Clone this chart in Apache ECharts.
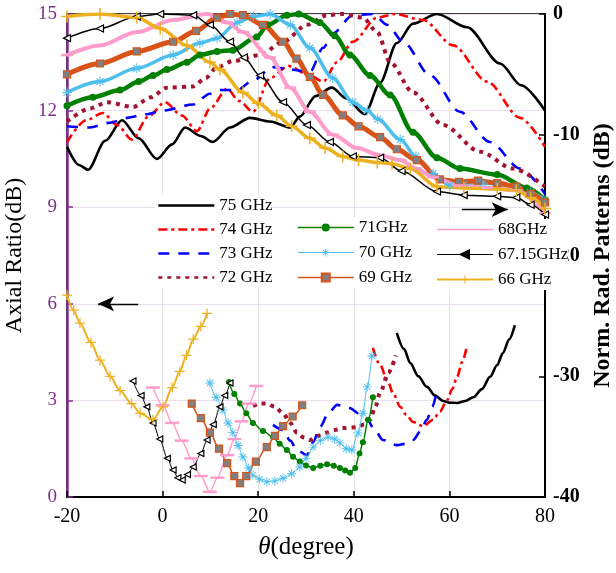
<!DOCTYPE html>
<html>
<head>
<meta charset="utf-8">
<title>Axial ratio and radiation patterns</title>
<style>
  html, body { margin: 0; padding: 0; background: #fff; }
  #chart { width: 616px; height: 573px; }
</style>
</head>
<body>
<div id="chart"></div>
<script src="https://cdn.jsdelivr.net/npm/echarts@6.0.0/dist/echarts.min.js"></script>
<script>
// legend names, in plotting order
const freqNames = ['75 GHz', '74 GHz', '73 GHz', '72 GHz', '71GHz', '70 GHz', '69 GHz', '68GHz', '67.15GHz', '66 GHz'];

// normalized radiation patterns, [theta (deg), dB] on the right axis
const pat75 = [[-20,-11.0],[-17.5,-12.5],[-15.6,-12.9],[-12,-10.5],[-8.5,-8.8],[-5,-10.3],[-1.2,-12.0],[2,-10.8],[4.7,-9.4],[8,-10.1],[10.5,-10.6],[14.1,-9.4],[18.3,-8.6],[22.5,-8.9],[26.7,-9.4],[28.7,-8.5],[32,-6.8],[35.4,-6.1],[38.5,-7.0],[42.3,-8.3],[45.5,-5.7],[49,-2.4],[52.4,-0.8],[57.4,0],[63.7,-1.1],[70.6,-4.1],[75,-5.9],[80,-8.0]];
const pat74 = [[-20,-10.6],[-16,-8.8],[-12.5,-8.2],[-9.5,-9.2],[-6.4,-10.4],[-3,-8.5],[0.5,-7.3],[4,-8.4],[7.2,-9.7],[10,-7.8],[13.5,-6.2],[16,-7.2],[18.9,-8.1],[22.5,-5.3],[26.3,-4.3],[30.8,-5.1],[33.6,-5.6],[36.5,-4.0],[39.8,-2.3],[44.9,-0.3],[48.6,0],[54.5,-0.5],[60.8,-2.6],[67.9,-5.6],[74.8,-8.6],[80,-11.0]];
const pat73 = [[-20,-9.3],[-15.2,-9.4],[-11,-9.0],[-7.4,-8.6],[-3.5,-8.3],[0,-8.0],[6.4,-7.5],[9.9,-6.6],[12,-6.3],[15.6,-6.3],[18.9,-5.5],[23.1,-4.4],[26.7,-4.6],[30.8,-4.8],[33.6,-2.8],[35.6,-1.6],[39.8,-0.1],[44,0],[47,-0.9],[50.3,-2.3],[56,-5.1],[62.2,-8.1],[68.5,-10.6],[74.8,-12.8],[80,-14.9]];
const pat72 = [[-20,-8.9],[-15,-7.8],[-11.6,-7.3],[-6.2,-7.7],[-2.5,-6.9],[0.9,-6.1],[6.4,-6.0],[9,-5.3],[11.4,-4.4],[14.7,-3.9],[20.4,-3.4],[25.2,-2.3],[30.2,-0.9],[34.4,-0.1],[37.7,0],[41.9,-0.3],[44.9,-1.5],[47.6,-4.0],[52.4,-6.5],[58.7,-9.2],[66.4,-11.4],[73.3,-12.8],[80,-14.3]];
const pat71 = [[-20,-7.6],[-14.6,-6.9],[-8.9,-6.3],[-5,-5.6],[-2,-5.1],[0.9,-4.6],[5.1,-4.0],[7.8,-3.4],[11.4,-3.1],[14.7,-3.0],[19.7,-1.9],[22,-0.9],[26,-0.1],[28.5,0],[32.9,-0.7],[36,-1.8],[39.2,-3.4],[43.4,-5.1],[47.6,-6.7],[52.4,-9.8],[57.4,-11.9],[62.2,-12.8],[70,-13.3],[76.2,-14.4],[80,-15.4]];
const pat70 = [[-20,-6.5],[-13.1,-5.6],[-5.4,-4.5],[2.2,-3.4],[7.8,-2.4],[11.4,-2.0],[15.6,-0.7],[19,-0.2],[22.5,0],[26.7,-0.9],[30.8,-2.8],[35.6,-5.3],[39.8,-7.3],[42.8,-8.0],[45,-8.7],[49.7,-10.4],[53,-11.8],[56.6,-13.2],[60.1,-14.2],[63,-14.1],[67,-14.0],[74.1,-14.3],[77,-14.8],[80,-15.4]];
const pat69 = [[-20,-5.0],[-13.1,-4.1],[-5.4,-3.1],[2.2,-2.3],[7,-1.4],[11.4,-0.3],[14.1,0],[16.8,-0.1],[21,-0.9],[25.2,-2.3],[28,-3.7],[30.8,-5.2],[33.6,-6.7],[37.7,-8.4],[41,-9.3],[45.5,-10.2],[49,-11.2],[53.2,-12.1],[58,-13.7],[62,-13.9],[66,-13.8],[70,-14.0],[74,-14.3],[77,-14.9],[80,-15.6]];
const pat68 = [[-20,-3.4],[-13.1,-2.6],[-5.4,-1.5],[2.2,-0.5],[9.3,0],[13.5,-0.7],[16.8,-1.5],[22.5,-3.6],[26.7,-6.1],[30.8,-8.1],[35.6,-10.0],[40.7,-11.1],[45.5,-11.7],[49.7,-12.1],[53,-12.8],[56.6,-13.5],[62,-14.2],[68,-14.4],[74,-14.6],[80,-16.5]];
const pat67 = [[-20,-2.0],[-13.1,-1.2],[-5.4,-0.2],[-0.5,0],[6.4,-0.1],[9.9,-0.9],[14.1,-2.3],[17,-3.6],[20.4,-5.1],[25.2,-7.3],[30.2,-9.2],[35,-10.6],[39.8,-11.8],[45.5,-11.9],[50,-13.0],[57.4,-14.7],[63,-15.0],[70,-15.1],[74,-15.2],[77,-15.8],[80,-16.6]];
const pat66 = [[-20,-0.2],[-13.1,0],[-5.4,-0.3],[-0.5,-1.2],[5.1,-2.6],[9.9,-4.0],[12,-4.6],[16.8,-6.5],[20,-7.4],[23.9,-8.4],[27,-9.3],[30.8,-10.3],[34,-11.1],[37.7,-11.8],[41,-12.1],[44.9,-12.3],[48,-12.4],[51.8,-12.8],[57.4,-14.3],[63,-14.4],[70,-14.5],[74,-14.6],[77,-15.2],[80,-16.1]];

// axial ratio, [theta (deg), dB] on the left axis
const ar75 = [[49,5.1],[50.5,4.6],[51.8,4.16],[53.5,3.75],[55.3,3.42],[57,3.15],[58.7,2.98],[60,2.93],[61.6,2.92],[63.3,2.98],[65,3.1],[66.8,3.35],[68.5,3.73],[70,4.1],[71.2,4.47],[72.5,4.9],[73.7,5.34]];
const ar74 = [[44,4.63],[45.5,4.1],[47,3.63],[48.3,3.2],[49.7,2.8],[51,2.55],[52.4,2.33],[54.5,2.2],[56.6,2.4],[58,2.65],[59.5,3.0],[60.6,3.35],[61.6,3.73],[62.7,4.2],[63.7,4.72]];
const ar73 = [[23.1,2.24],[25.2,2.08],[26.7,1.75],[28.1,1.46],[30.2,1.3],[31.5,1.7],[32.9,2.17],[34.7,2.6],[36.5,2.86],[39.2,2.76],[41,2.6],[42.8,2.4],[44.5,2.05],[46.1,1.77],[49,1.61],[50.8,1.65],[52.4,1.77],[54,2.05],[55.3,2.4],[56.4,2.8],[57.4,3.3]];
const ar72 = [[18.9,2.83],[20.3,2.9],[21.8,2.9],[23.5,2.8],[25.2,2.6],[26.7,2.3],[28.1,2.0],[29.5,1.85],[30.8,1.77],[32.5,1.9],[34.4,2.0],[36,2.08],[37.7,2.14],[40.7,2.17],[42.2,2.25],[43.4,2.4],[44.5,2.8],[45.5,3.23],[47.2,3.85],[48.8,4.4]];
const ar71 = [[13.9,3.57],[15,3.2],[16.2,2.9],[17.5,2.6],[18.9,2.3],[21,2.05],[23.1,1.86],[24.5,1.65],[26,1.46],[27.3,1.25],[28.7,1.1],[30,0.98],[31.5,0.9],[33,0.97],[34.4,1.02],[35.8,0.97],[37.1,0.9],[38.2,0.82],[39.2,0.75],[40.3,0.9],[41.2,1.35],[41.9,1.7],[43,2.4],[44,3.1]];
const ar70 = [[9.9,3.54],[11.2,3.1],[12.6,2.7],[13.7,2.3],[14.7,2.0],[15.8,1.6],[16.8,1.24],[18,0.9],[18.9,0.68],[20.3,0.55],[21.8,0.47],[23.5,0.5],[25.2,0.58],[27,0.72],[28.7,0.93],[30,1.2],[31.5,1.55],[33,1.75],[34.6,1.86],[36,1.8],[37.1,1.68],[38.4,1.5],[39.6,1.46],[40.9,1.99],[41.9,2.6],[42.8,3.42],[43.8,4.38]];
const ar69 = [[6.1,2.9],[8,2.45],[9.9,2.0],[11.8,1.5],[13.5,1.05],[15,0.65],[16.2,0.43],[17.5,0.65],[19.5,1.1],[21.8,1.55],[23.5,1.9],[25.2,2.2],[27.2,2.5],[29.2,2.85]];
const ar68 = [[-2,3.4],[0,2.85],[2,2.3],[4,1.75],[6,1.2],[8,0.65],[9.9,0.16],[11.5,0.6],[13.5,1.3],[15,1.8],[16.5,2.35],[18,2.9],[19.6,3.45]];
const ar67 = [[-6.2,3.6],[-4.5,3.15],[-3.3,2.8],[-2,2.3],[-0.6,1.8],[1,1.2],[2.2,0.84],[3.2,0.6],[4.1,0.53],[5.2,0.7],[6.4,0.93],[8,1.35],[9.3,1.77],[10.6,2.25],[12,2.8],[13,3.15],[14.1,3.54]];
const ar66 = [[-20,6.27],[-18.6,5.8],[-17.3,5.4],[-15,4.8],[-13.1,4.25],[-11,3.75],[-8.9,3.3],[-6.5,2.9],[-4.7,2.6],[-2,2.4],[0.1,2.8],[2,3.4],[3.6,3.9],[5,4.4],[6.4,4.9],[8,5.3],[9.3,5.7]];

const patterns = [pat75, pat74, pat73, pat72, pat71, pat70, pat69, pat68, pat67, pat66];
const axialRatios = [ar75, ar74, ar73, ar72, ar71, ar70, ar69, ar68, ar67, ar66];

// arrow annotations: left one on the AR axis, right one on the pattern axis
const leftArrow = [[-5.1, 6.0], [-13.5, 6.0]];
const rightArrow = [[62.6, -16.2], [72.2, -16.2]];

const SERIF = 'Liberation Serif';
const PURPLE = '#7E2F8E';

// marker shapes
const STAR = 'path://M-1,-10L1,-10L1,10L-1,10Z M-10,-1L10,-1L10,1L-10,1Z M-6.3,-7.7L7.7,6.3L6.3,7.7L-7.7,-6.3Z M-7.7,6.3L6.3,-7.7L7.7,-6.3L-6.3,7.7Z';
const PLUS = 'path://M-1,-8L1,-8L1,8L-1,8Z M-8,-1L8,-1L8,1L-8,1Z';
const BAR = 'path://M-8,-1L8,-1L8,1L-8,1Z';

// look of each frequency; pw/ps = pattern line width / marker size, aw/as = axial ratio ones
// (the measured patterns are drawn with dense markers, hence the heavier bands)
const looks = [
  { color: '#000000', pw: 2.6, aw: 2.6, type: 'solid', symbol: 'none' },
  { color: '#FF0000', pw: 2.6, aw: 2.6, type: [9, 4, 3, 4], symbol: 'none' },
  { color: '#0000FF', pw: 2.6, aw: 2.6, type: [11, 9], symbol: 'none' },
  { color: '#A2142F', pw: 4, aw: 4, type: [4, 5], symbol: 'none' },
  { color: '#008000', pw: 4.5, aw: 1.5, symbol: 'circle', ps: 7, as: 6 },
  { color: '#4DBEEE', pw: 3.5, aw: 1, symbol: STAR, ps: 10, as: 9 },
  { color: '#D95319', pw: 5, aw: 1.5, symbol: 'rect', ps: 7, as: 7, fill: '#808080', border: '#D95319' },
  { color: '#FF9CCB', pw: 4, aw: 1.5, symbol: BAR, ps: [12, 2.5], as: [14, 2.5], plainLegend: true },
  { color: '#000000', pw: 1.5, aw: 1, symbol: 'triangle', ps: 7, as: 6, rotate: 90, fill: '#ffffff', border: '#000000' },
  { color: '#EDB120', pw: 3.5, aw: 2, symbol: PLUS, ps: 12, as: 10 }
];

function makeSeries(name, data, look, axis, width, size) {
  return {
    name: name,
    type: 'line',
    yAxisIndex: axis,
    data: data,
    smooth: 0.3,
    smoothMonotone: 'x',
    symbol: look.symbol,
    symbolSize: size || 4,
    symbolRotate: look.rotate || 0,
    showSymbol: look.symbol !== 'none',
    showAllSymbol: true,
    lineStyle: { color: look.color, width: width, type: look.type || 'solid', cap: 'butt' },
    itemStyle: {
      color: look.fill || look.color,
      borderColor: look.border || look.color,
      borderWidth: look.border ? 1.2 : 0
    },
    emphasis: { disabled: true },
    silent: true
  };
}

function arrowSeries(axis, pts) {
  return {
    type: 'line',
    yAxisIndex: axis,
    data: [],
    silent: true,
    markLine: {
      silent: true,
      animation: false,
      symbol: ['none', 'arrow'],
      symbolSize: [11, 16],
      lineStyle: { color: '#000', width: 1.3, type: 'solid' },
      label: { show: false },
      data: [[{ coord: pts[0] }, { coord: pts[1] }]]
    }
  };
}

const series = [];
freqNames.forEach((n, i) => series.push(makeSeries(n, patterns[i], looks[i], 1, looks[i].pw, looks[i].ps)));
freqNames.forEach((n, i) => series.push(makeSeries(n, axialRatios[i], looks[i], 0, looks[i].aw, looks[i].as)));
series.push(arrowSeries(0, leftArrow));
series.push(arrowSeries(1, rightArrow));

// legend entries: plain lines get no marker, legend lines are thin
function legendItem(n, i) {
  const lk = looks[i];
  const item = { name: n, lineStyle: { width: Math.min(lk.aw, 2.6) } };
  if (lk.symbol === 'none' || lk.plainLegend) {
    item.itemStyle = { color: 'rgba(0,0,0,0)', borderWidth: 0, opacity: 0 };
  } else if (lk.rotate) {
    item.itemStyle = { color: '#000', borderColor: '#000' };
  }
  return item;
}

const legendText = { fontFamily: SERIF, fontSize: 17, color: '#000' };
function legendCol(from, to, left, top, gap) {
  return {
    orient: 'vertical',
    left: left,
    top: top,
    data: freqNames.slice(from, to).map((n, k) => legendItem(n, from + k)),
    itemWidth: 56,
    itemHeight: 10,
    itemGap: gap,
    itemTextGap: 5,
    padding: [2, 0, 2, 2],
    backgroundColor: '#fff',
    selectedMode: false,
    textStyle: legendText
  };
}

const chart = echarts.init(document.getElementById('chart'));
chart.setOption({
  animation: false,
  backgroundColor: '#fff',
  textStyle: { fontFamily: SERIF },
  grid: {
    left: 67, right: 71, top: 14, bottom: 76,
    outerBoundsMode: 'none',
    show: true, borderColor: '#000', borderWidth: 1.5
  },
  legend: [
    legendCol(0, 4, 155, 195, 7),
    legendCol(4, 7, 295, 217, 8),
    legendCol(7, 10, 434, 219, 8)
  ],
  xAxis: {
    type: 'value',
    min: -20, max: 80, interval: 20,
    name: '{i|θ}(degree)',
    nameLocation: 'middle',
    nameGap: 38,
    nameTextStyle: {
      fontFamily: SERIF, fontSize: 25, color: '#000',
      rich: { i: { fontFamily: SERIF, fontSize: 25, fontStyle: 'italic', color: '#000' } }
    },
    axisLine: { onZero: false, lineStyle: { color: '#000', width: 2 } },
    axisTick: { inside: true, length: 6, lineStyle: { color: '#000', width: 1.5 } },
    axisLabel: { fontFamily: SERIF, fontSize: 20, color: '#000', margin: 10 },
    splitLine: { show: true, lineStyle: { color: '#E2E2E2', width: 1 } }
  },
  yAxis: [
    {
      type: 'value',
      position: 'left',
      min: 0, max: 15, interval: 3,
      name: 'Axial Ratio(dB)',
      nameLocation: 'middle',
      nameGap: 27,
      nameTextStyle: { fontFamily: SERIF, fontSize: 24, color: '#000' },
      axisLine: { show: true, onZero: false, lineStyle: { color: PURPLE, width: 2.5 } },
      axisTick: { show: true, inside: true, length: 6, lineStyle: { color: PURPLE, width: 1.5 } },
      axisLabel: { fontFamily: SERIF, fontSize: 19, color: PURPLE, margin: 10 },
      splitLine: { show: true, lineStyle: { color: '#EBDDEE', width: 1 } }
    },
    {
      type: 'value',
      position: 'right',
      min: -40, max: 0, interval: 10,
      name: 'Norm. Rad. Patterns (dB)',
      nameLocation: 'middle',
      nameGap: 46,
      nameTextStyle: { fontFamily: SERIF, fontSize: 24, fontWeight: 'bold', color: '#000' },
      axisLine: { show: true, onZero: false, lineStyle: { color: '#000', width: 2 } },
      axisTick: { show: true, inside: true, length: 6, lineStyle: { color: '#000', width: 1.5 } },
      axisLabel: { fontFamily: SERIF, fontSize: 20, fontWeight: 'bold', color: '#000', margin: 8 },
      splitLine: { show: false }
    }
  ],
  series: series
});
</script>
</body>
</html>
